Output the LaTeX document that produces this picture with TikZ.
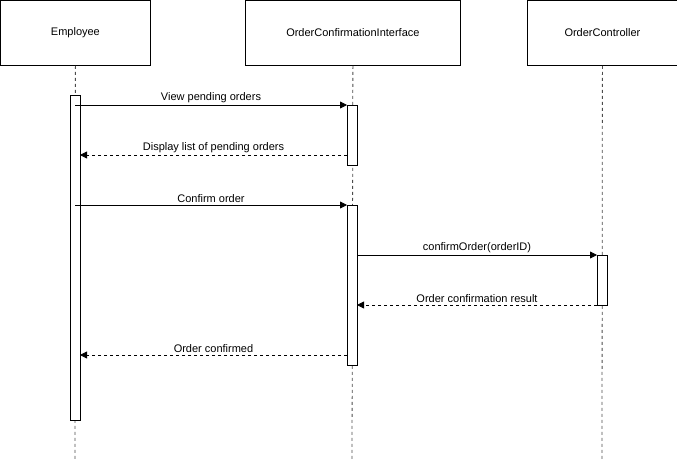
\documentclass[tikz,border=0pt]{standalone}
\usepackage{fontspec}
\setmainfont{Liberation Sans}
\usetikzlibrary{arrows.meta}
\begin{document}
\begin{tikzpicture}[x=1pt,y=-1pt,
  every node/.style={font=\fontsize{11}{13}\selectfont},
  lifebox/.style={draw=black,fill=white,line width=0.8pt,minimum height=65pt,inner sep=0pt,anchor=north west},
  actbox/.style={draw=black,fill=white,line width=0.8pt,minimum width=10pt,inner sep=0pt,anchor=north},
  lifeline/.style={draw=black!70,dashed,dash pattern=on 3pt off 3pt,line width=0.8pt},
  msg/.style={draw=black,line width=0.8pt,-{Triangle[length=7pt,width=7pt]}},
  ret/.style={msg,dash pattern=on 3pt off 3pt},
  lbl/.style={above,inner sep=2pt}]
\useasboundingbox (0,0) rectangle (677,461);
% heads
\node[lifebox,minimum width=150pt] (emp) at (0,0) {Employee};
\node[lifebox,minimum width=215pt] (oci) at (245,0) {OrderConfirmationInterface};
\node[lifebox,minimum width=150pt] (oc) at (527,0) {OrderController};
% lifelines
\coordinate (empend) at (75,461);
\coordinate (ociend) at (352,461);
\coordinate (ocend) at (602,461);
\draw[lifeline] (emp.south) -- (empend);
\draw[lifeline] (oci.south) -- (ociend);
\draw[lifeline] (oc.south) -- (ocend);
% activations
\node[actbox,minimum height=325pt] (a1) at (75,95) {};
\node[actbox,minimum height=60pt] (a2) at (352,105) {};
\node[actbox,minimum height=160pt] (a3) at (352,205) {};
\node[actbox,minimum height=50pt] (a4) at (602,255) {};
% messages
\coordinate (m1s) at (75,105);
\coordinate (m1e) at (347,105);
\draw[msg] (m1s) -- node[lbl]{View pending orders} (m1e);
\coordinate (m2s) at (347,155);
\coordinate (m2e) at (80,155);
\draw[ret] (m2s) -- node[lbl]{Display list of pending orders} (m2e);
\coordinate (m3s) at (75,205);
\coordinate (m3e) at (347,205);
\draw[msg] (m3s) -- node[lbl]{Confirm order} (m3e);
\coordinate (m4s) at (357,255);
\coordinate (m4e) at (597,255);
\draw[msg] (m4s) -- node[lbl]{confirmOrder(orderID)} (m4e);
\coordinate (m5s) at (597,305);
\coordinate (m5e) at (357,305);
\draw[ret] (m5s) -- node[lbl]{Order confirmation result} (m5e);
\coordinate (m6s) at (347,355);
\coordinate (m6e) at (80,355);
\draw[ret] (m6s) -- node[lbl]{Order confirmed} (m6e);
\end{tikzpicture}
\end{document}
